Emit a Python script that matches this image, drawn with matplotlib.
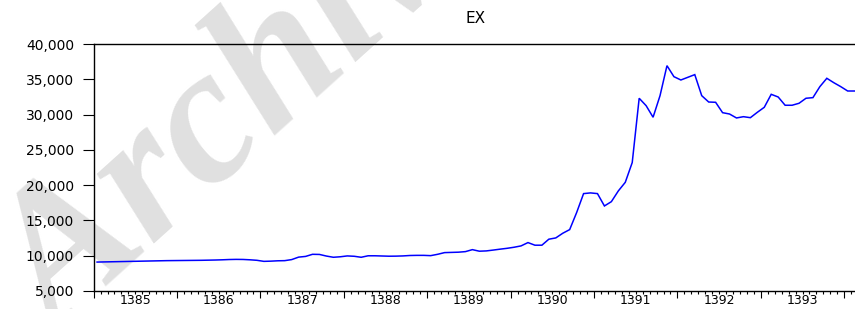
import matplotlib
matplotlib.use("Agg")
import matplotlib.pyplot as plt
from matplotlib.ticker import FixedLocator, FuncFormatter

# ---- data (monthly, 1385M01 .. 1394M02) ----
title = "EX"
years = [1385, 1386, 1387, 1388, 1389, 1390, 1391, 1392, 1393]
ex_values = [
    9100, 9120, 9140, 9160, 9180, 9200, 9220, 9240, 9260, 9280, 9300, 9310,      # 1385
    9320, 9330, 9340, 9350, 9370, 9390, 9420, 9460, 9480, 9470, 9420, 9350,      # 1386
    9200, 9230, 9280, 9300, 9450, 9800, 9900, 10200, 10180, 9950, 9780, 9850,   # 1387
    9970, 9920, 9780, 9990, 9990, 9960, 9930, 9940, 9970, 10030, 10050, 10050,  # 1388
    10010, 10200, 10440, 10470, 10500, 10580, 10860, 10640, 10680, 10800, 10930, 11050,  # 1389
    11200, 11390, 11860, 11490, 11490, 12340, 12520, 13180, 13700, 16110, 18800, 18900,  # 1390
    18800, 17050, 17660, 19180, 20400, 23200, 32310, 31260, 29620, 32680, 36930, 35370,  # 1391
    34900, 35280, 35660, 32680, 31780, 31740, 30270, 30080, 29520, 29700, 29560, 30320,  # 1392
    31030, 32870, 32490, 31320, 31320, 31600, 32310, 32400, 33960, 35140, 34520, 33960,  # 1393
    33340, 33340,                                                                  # 1394
]
y_ticks = [5000, 10000, 15000, 20000, 25000, 30000, 35000, 40000]

W, H = 855, 309
fig = plt.figure(figsize=(W / 100, H / 100), dpi=100)
fig.patch.set_facecolor("white")

n_months = 110
left_px, right_px, top_px, bot_px = 93.6, 858.1, 44.0, 291.0
ax = fig.add_axes([left_px / W, (H - bot_px) / H,
                   (right_px - left_px) / W, (bot_px - top_px) / H])
ax.set_facecolor("none")
ax.set_zorder(1)

# watermark
fig.text(58 / W, (H - 340) / H, "Archive", fontsize=140, color="#e0e0e0",
         family="Liberation Serif", weight="bold", style="italic",
         rotation=42, rotation_mode="anchor", ha="left", va="baseline",
         zorder=-1)

x = [i + 0.5 for i in range(len(ex_values))]
ax.plot(x, ex_values, color="#0000ff", lw=1.1, solid_joinstyle="miter")

ax.set_xlim(0, n_months)
ax.set_ylim(5000, 40000)

# y axis
ax.yaxis.set_major_locator(FixedLocator(y_ticks))
ax.yaxis.set_major_formatter(FuncFormatter(lambda v, p: f"{int(v):,}"))
ax.tick_params(axis="y", which="major", direction="out", length=8, width=0.8,
               pad=6, labelsize=10, colors="black")

# x axis: year boundaries as major ticks, months as minor ticks, labels mid-year
year_bounds = [12 * k for k in range(len(years) + 1)]
ax.xaxis.set_major_locator(FixedLocator(year_bounds))
ax.xaxis.set_major_formatter(FuncFormatter(lambda v, p: ""))
month_bounds = [m for m in range(0, n_months + 1) if m % 12 != 0]
ax.xaxis.set_minor_locator(FixedLocator(month_bounds))
centers = {12 * k + 6: str(y) for k, y in enumerate(years)}
ax.xaxis.set_minor_formatter(FuncFormatter(lambda v, p: centers.get(int(round(v)), "")))
ax.tick_params(axis="x", which="major", direction="out", length=5, width=0.8)
ax.tick_params(axis="x", which="minor", direction="out", length=2.5, width=0.8,
               pad=0, labelsize=9, colors="black")

for s in ["left", "top", "bottom"]:
    ax.spines[s].set_linewidth(1.0)
    ax.spines[s].set_color("black")
ax.spines["right"].set_visible(False)

for lab in ax.get_yticklabels() + ax.get_xticklabels(minor=True):
    lab.set_family("DejaVu Sans")

ax.set_title(title, fontsize=11, pad=15, family="DejaVu Sans")

fig.savefig("out.png", dpi=100)
